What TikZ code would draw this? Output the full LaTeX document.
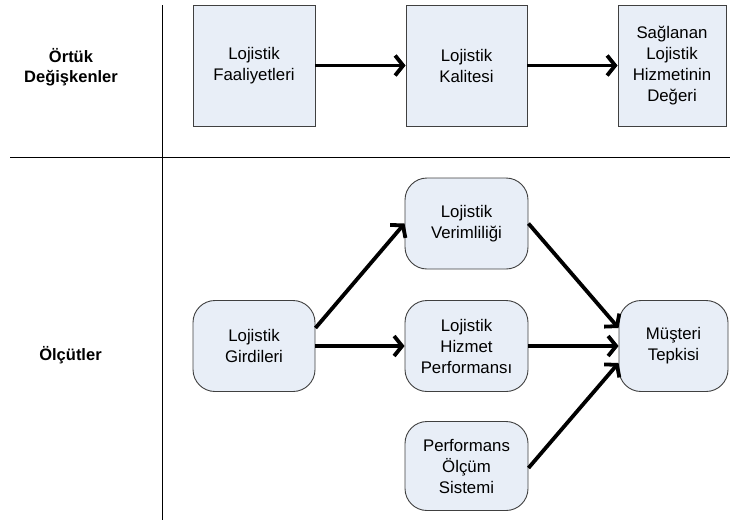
\documentclass[tikz,border=0pt]{standalone}
\usepackage{fontspec}
\setmainfont{Liberation Sans}
\usetikzlibrary{arrows.meta}
\definecolor{boxfill}{RGB}{232,238,247}
\definecolor{boxline}{RGB}{64,64,64}
\begin{document}
\begin{tikzpicture}[x=1pt,y=-1pt,
  every node/.style={font=\fontsize{16.8}{21}\selectfont, align=center, inner sep=0pt},
  sqbox/.style={draw=boxline, line width=0.9pt, fill=boxfill, minimum height=121pt},
  rbox/.style={draw=boxline, line width=0.9pt, fill=boxfill, rounded corners=22pt,
               minimum width=123pt, minimum height=91pt},
  rowlabel/.style={font=\bfseries\fontsize{16.5}{20.5}\selectfont},
  flow/.style={line width=3.8pt, -{Straight Barb[length=8pt,width=20pt]}},
  divider/.style={line width=0.8pt, black}]
\useasboundingbox (0,0) rectangle (730,520);

% section dividers
\coordinate (vtop) at (162.5,5);
\coordinate (vbot) at (162.5,520);
\coordinate (hleft) at (10,157);
\coordinate (hright) at (730,157);
\draw[divider] (vtop) -- (vbot);
\draw[divider] (hleft) -- (hright);

% row labels
\node[rowlabel] (latent) at (71,67) {Örtük\\Değişkenler};
\node[rowlabel] (measures) at (70.5,355) {Ölçütler};

% latent variables
\node[sqbox, minimum width=122pt] (fa) at (254,65.5) {Lojistik\\Faaliyetleri};
\node[sqbox, minimum width=121pt] (ka) at (466.5,65.5) {Lojistik\\Kalitesi};
\node[sqbox, minimum width=108pt] (sa) at (672,65.5) {Sağlanan\\Lojistik\\Hizmetinin\\Değeri};

% measures
\node[rbox, minimum width=122pt] (gi) at (254,346) {Lojistik\\Girdileri};
\node[rbox] (ve) at (466.5,223.5) {Lojistik\\Verimliliği};
\node[rbox] (hi) at (466.5,346) {Lojistik\\Hizmet\\Performansı};
\node[rbox, minimum height=89pt] (pe) at (466.5,466) {Performans\\Ölçüm\\Sistemi};
\node[rbox, minimum width=109pt] (mu) at (673.5,346) {Müşteri\\Tepkisi};

% connectors
\draw[flow] (fa.east) -- (ka.west);
\draw[flow] (ka.east) -- (sa.west);
\draw[flow] ([yshift=18pt]gi.east) -- (ve.west);
\draw[flow] (gi.east) -- (hi.west);
\draw[flow] (ve.east) -- ([yshift=18pt]mu.west);
\draw[flow] (hi.east) -- (mu.west);
\draw[flow] ([yshift=-2pt]pe.east) -- ([yshift=-17pt]mu.west);
\end{tikzpicture}
\end{document}
